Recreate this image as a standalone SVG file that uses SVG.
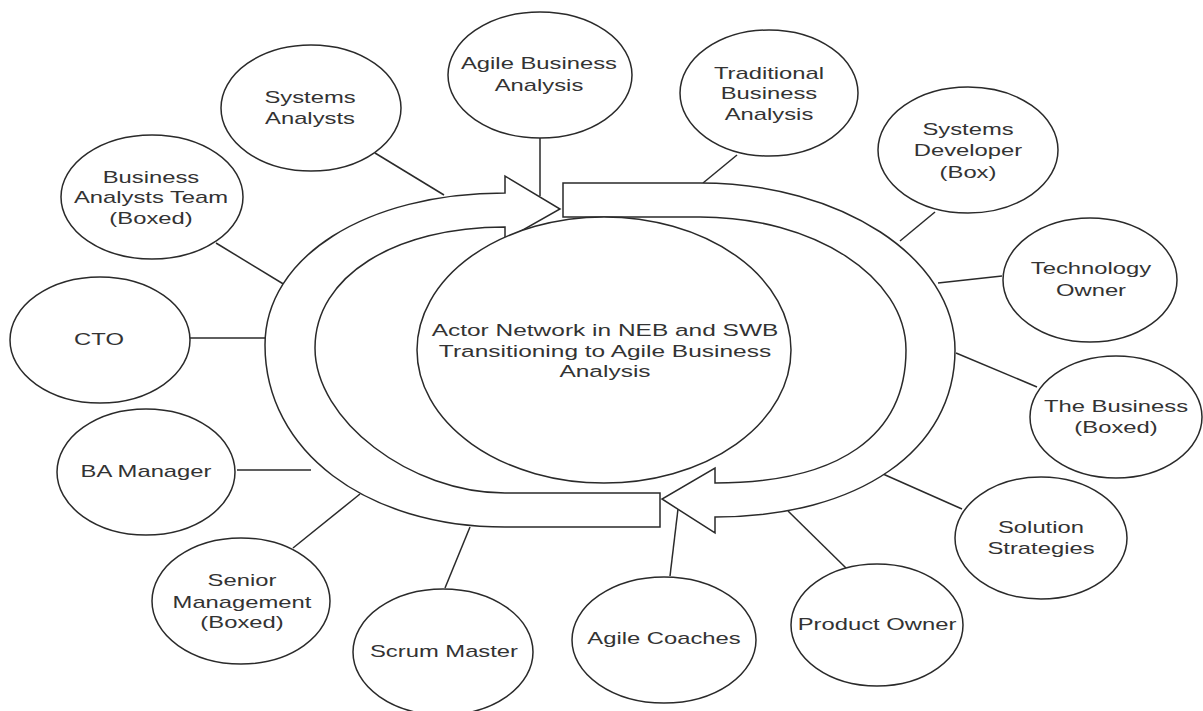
<svg xmlns="http://www.w3.org/2000/svg" width="1203" height="711" viewBox="0 0 1203 711">
<style>
.node ellipse{fill:#fff;stroke:#2a2a2a;stroke-width:1.5}
.lbl{font-family:"Liberation Sans",Arial,sans-serif;font-size:17px;fill:#333;text-anchor:middle}
.conn line{stroke:#2a2a2a;stroke-width:1.5}
.arrow{fill:#fff;stroke:#2a2a2a;stroke-width:1.5;stroke-linejoin:miter}
</style>
<rect width="1203" height="711" fill="#fff"/>
<g id="connectors" class="conn">
<line x1="375" y1="153" x2="444" y2="195"/>
<line x1="540" y1="137" x2="540" y2="196"/>
<line x1="737" y1="155" x2="703" y2="183"/>
<line x1="935" y1="212" x2="900" y2="241"/>
<line x1="1002" y1="276" x2="938" y2="283"/>
<line x1="1037" y1="387" x2="956" y2="353"/>
<line x1="962" y1="509" x2="883" y2="474"/>
<line x1="846" y1="568" x2="788" y2="511"/>
<line x1="670" y1="576" x2="678" y2="509"/>
<line x1="445" y1="588" x2="470" y2="527"/>
<line x1="293" y1="548" x2="360" y2="494"/>
<line x1="237" y1="470" x2="311" y2="470"/>
<line x1="189" y1="338" x2="265" y2="338"/>
<line x1="216" y1="243" x2="285" y2="285"/>
</g>
<g id="cycle-arrows">
<path id="arrow-left" class="arrow" d="M505,193 C366,193 265,257 265,345 C265,451 366,527 505,527 H660 V493 H505 C410,493 315,420 315,348 C315,276 395,227 505,227 V240 L560,209 L505,176 Z"/>
<path id="arrow-right" class="arrow" d="M563,183 H700 C841,183 955,258 955,350 C955,450 859,517 715,517 V533 L662,499 L715,468 V483 C839,483 906,436 906,350 C906,277 814,217 700,217 H563 Z"/>
</g>
<g id="n-center" class="node">
<ellipse cx="604" cy="350" rx="187" ry="133"/>
<text class="lbl" transform="translate(605 0) scale(1.44 1)" y="336"><tspan x="0">Actor Network in NEB and SWB</tspan><tspan x="0" y="357">Transitioning to Agile Business</tspan><tspan x="0" y="377">Analysis</tspan></text>
</g>
<g id="n-systems-analysts" class="node">
<ellipse cx="311" cy="108" rx="90" ry="63"/>
<text class="lbl" transform="translate(310 0) scale(1.4 1)" y="103"><tspan x="0">Systems</tspan><tspan x="0" y="124">Analysts</tspan></text>
</g>
<g id="n-agile-ba" class="node">
<ellipse cx="540" cy="75" rx="92" ry="63"/>
<text class="lbl" transform="translate(539 0) scale(1.4 1)" y="69"><tspan x="0">Agile Business</tspan><tspan x="0" y="91">Analysis</tspan></text>
</g>
<g id="n-traditional-ba" class="node">
<ellipse cx="769" cy="93" rx="89" ry="63"/>
<text class="lbl" transform="translate(769 0) scale(1.4 1)" y="79"><tspan x="0">Traditional</tspan><tspan x="0" y="99">Business</tspan><tspan x="0" y="120">Analysis</tspan></text>
</g>
<g id="n-systems-developer" class="node">
<ellipse cx="968" cy="150" rx="90" ry="63"/>
<text class="lbl" transform="translate(968 0) scale(1.4 1)" y="135"><tspan x="0">Systems</tspan><tspan x="0" y="156">Developer</tspan><tspan x="0" y="178">(Box)</tspan></text>
</g>
<g id="n-technology-owner" class="node">
<ellipse cx="1090" cy="280" rx="87" ry="62"/>
<text class="lbl" transform="translate(1091 0) scale(1.4 1)" y="274"><tspan x="0">Technology</tspan><tspan x="0" y="296">Owner</tspan></text>
</g>
<g id="n-the-business" class="node">
<ellipse cx="1116" cy="417" rx="86" ry="61"/>
<text class="lbl" transform="translate(1116 0) scale(1.4 1)" y="412"><tspan x="0">The Business</tspan><tspan x="0" y="433">(Boxed)</tspan></text>
</g>
<g id="n-solution-strategies" class="node">
<ellipse cx="1041" cy="538" rx="86" ry="61"/>
<text class="lbl" transform="translate(1041 0) scale(1.4 1)" y="533"><tspan x="0">Solution</tspan><tspan x="0" y="554">Strategies</tspan></text>
</g>
<g id="n-product-owner" class="node">
<ellipse cx="877" cy="625" rx="86" ry="61"/>
<text class="lbl" transform="translate(877 0) scale(1.4 1)" y="630">Product Owner</text>
</g>
<g id="n-agile-coaches" class="node">
<ellipse cx="664" cy="640" rx="92" ry="63"/>
<text class="lbl" transform="translate(664 0) scale(1.4 1)" y="644">Agile Coaches</text>
</g>
<g id="n-scrum-master" class="node">
<ellipse cx="443" cy="652" rx="90" ry="63"/>
<text class="lbl" transform="translate(444 0) scale(1.4 1)" y="657">Scrum Master</text>
</g>
<g id="n-senior-management" class="node">
<ellipse cx="241" cy="601" rx="89" ry="63"/>
<text class="lbl" transform="translate(242 0) scale(1.4 1)" y="586"><tspan x="0">Senior</tspan><tspan x="0" y="608">Management</tspan><tspan x="0" y="628">(Boxed)</tspan></text>
</g>
<g id="n-ba-manager" class="node">
<ellipse cx="146" cy="472" rx="89" ry="63"/>
<text class="lbl" transform="translate(146 0) scale(1.4 1)" y="477">BA Manager</text>
</g>
<g id="n-cto" class="node">
<ellipse cx="100" cy="340" rx="90" ry="63"/>
<text class="lbl" transform="translate(99 0) scale(1.4 1)" y="345">CTO</text>
</g>
<g id="n-ba-team" class="node">
<ellipse cx="152" cy="197" rx="91" ry="62"/>
<text class="lbl" transform="translate(151 0) scale(1.4 1)" y="183"><tspan x="0">Business</tspan><tspan x="0" y="203">Analysts Team</tspan><tspan x="0" y="224">(Boxed)</tspan></text>
</g>
</svg>
